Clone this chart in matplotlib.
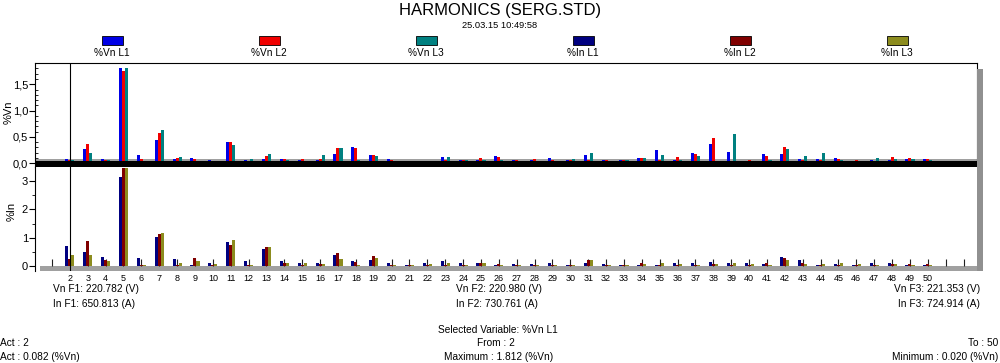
import numpy as np
import matplotlib.pyplot as plt
from matplotlib.patches import Rectangle
from matplotlib.ticker import MultipleLocator, FuncFormatter

plt.rcParams['font.family'] = ['Liberation Sans', 'DejaVu Sans']

harmonics = list(range(2, 51))
slots = list(range(1, 53))   # harmonic slots on the x axis

vn_l1 = [0.082, 0.27, 0.09, 1.812, 0.16, 0.44, 0.09, 0.10, 0.07, 0.41, 0.07, 0.08, 0.08, 0.06, 0.07,
         0.17, 0.31, 0.16, 0.09, 0.02, 0.04, 0.12, 0.07, 0.07, 0.13, 0.06, 0.07, 0.11, 0.06, 0.16,
         0.06, 0.06, 0.11, 0.25, 0.07, 0.20, 0.37, 0.22, 0.05, 0.17, 0.17, 0.08, 0.08, 0.10, 0.05,
         0.06, 0.07, 0.08, 0.08]
vn_l2 = [0.06, 0.37, 0.07, 1.76, 0.08, 0.57, 0.10, 0.08, 0.04, 0.40, 0.05, 0.13, 0.08, 0.08, 0.08,
         0.29, 0.29, 0.15, 0.07, 0.03, 0.05, 0.07, 0.06, 0.10, 0.12, 0.07, 0.08, 0.06, 0.07, 0.07,
         0.07, 0.07, 0.10, 0.07, 0.12, 0.18, 0.48, 0.05, 0.07, 0.14, 0.30, 0.07, 0.07, 0.08, 0.06,
         0.05, 0.12, 0.10, 0.09]
vn_l3 = [0.07, 0.19, 0.07, 1.81, 0.05, 0.63, 0.12, 0.05, 0.04, 0.35, 0.09, 0.18, 0.07, 0.05, 0.16,
         0.29, 0.06, 0.13, 0.04, 0.03, 0.04, 0.12, 0.07, 0.07, 0.07, 0.05, 0.05, 0.05, 0.08, 0.19,
         0.05, 0.06, 0.11, 0.16, 0.07, 0.14, 0.05, 0.56, 0.05, 0.06, 0.27, 0.13, 0.20, 0.06, 0.05,
         0.10, 0.08, 0.09, 0.06]

in_l1 = [0.70, 0.49, 0.31, 3.13, 0.27, 1.01, 0.24, 0.05, 0.12, 0.86, 0.17, 0.60, 0.17, 0.10, 0.10,
         0.39, 0.19, 0.22, 0.12, 0.03, 0.10, 0.17, 0.10, 0.10, 0.05, 0.06, 0.06, 0.10, 0.03, 0.10,
         0.08, 0.05, 0.05, 0.05, 0.10, 0.10, 0.15, 0.10, 0.10, 0.08, 0.33, 0.20, 0.05, 0.08, 0.05,
         0.10, 0.10, 0.05, 0.05]
in_l2 = [0.25, 0.88, 0.22, 3.45, 0.05, 1.13, 0.05, 0.27, 0.05, 0.74, 0.05, 0.66, 0.10, 0.05, 0.06,
         0.47, 0.15, 0.36, 0.05, 0.05, 0.05, 0.05, 0.03, 0.10, 0.07, 0.03, 0.03, 0.05, 0.05, 0.20,
         0.05, 0.05, 0.10, 0.05, 0.05, 0.05, 0.08, 0.05, 0.05, 0.10, 0.27, 0.10, 0.05, 0.05, 0.05,
         0.05, 0.08, 0.08, 0.08]
in_l3 = [0.39, 0.39, 0.17, 3.45, 0.05, 1.18, 0.12, 0.17, 0.07, 0.92, 0.04, 0.66, 0.10, 0.12, 0.08,
         0.25, 0.05, 0.27, 0.05, 0.05, 0.08, 0.12, 0.03, 0.12, 0.05, 0.03, 0.03, 0.05, 0.05, 0.20,
         0.03, 0.03, 0.08, 0.12, 0.08, 0.05, 0.08, 0.10, 0.08, 0.05, 0.20, 0.08, 0.07, 0.12, 0.08,
         0.03, 0.08, 0.05, 0.05]

vn_names = ['%Vn L1', '%Vn L2', '%Vn L3']
in_names = ['%In L1', '%In L2', '%In L3']
vn_colors = ['#0000e6', '#f00000', '#008080']
in_colors = ['#000080', '#800000', '#8c8c1e']

W, H = 1000, 363
fig = plt.figure(figsize=(W / 100, H / 100), dpi=100)


def fx(x):
    return x / W


def fy(y):
    return 1 - y / H


# axes placed by pixel box
ax1 = fig.add_axes([fx(35), fy(167), fx(942), (167 - 63) / H])
ax2 = fig.add_axes([fx(35), fy(271), fx(942), (271 - 167) / H], sharex=ax1)

x = np.array(harmonics)
bw = 0.17

# upper chart (%Vn)
ax1.axhspan(0.044, 0.082, color='#a0a0a0', lw=0, zorder=1)
for i, vals in enumerate([vn_l1, vn_l2, vn_l3]):
    ax1.bar(x + (i - 1) * bw, vals, width=bw, color=vn_colors[i], lw=0, zorder=2)
ax1.axhspan(-0.08, 0.044, color='black', lw=0, zorder=3)
ax1.set_ylim(-0.070, 1.903)
ax1.set_xlim(0.05, 52.75)
ax1.yaxis.set_major_locator(MultipleLocator(0.5))
ax1.yaxis.set_minor_locator(MultipleLocator(0.1))
ax1.yaxis.set_major_formatter(FuncFormatter(lambda v, p: f"{v:.1f}".replace('.', ',')))
ax1.tick_params(axis='y', which='major', direction='out', length=4, width=0.8, labelsize=8, pad=1)
ax1.tick_params(axis='y', which='minor', direction='in', length=2.5, width=0.6)
ax1.tick_params(axis='x', bottom=False, labelbottom=False)
ax1.spines['bottom'].set_visible(False)
for s in ['left', 'top', 'right']:
    ax1.spines[s].set_linewidth(0.8)
ax1.set_ylabel('%Vn', fontsize=8, va='center')
ax1.yaxis.set_label_coords(-0.028, 0.53)

# lower chart (%In)
ax2.axhspan(-0.2, 0, xmin=0.005, color='#a0a0a0', lw=0, zorder=1)
ax2.vlines(slots, 0, 0.25, color='#202020', lw=0.8, zorder=1.5)
for i, vals in enumerate([in_l1, in_l2, in_l3]):
    ax2.bar(x + (i - 1) * bw, vals, width=bw, color=in_colors[i], lw=0, zorder=2)
ax2.yaxis.set_major_locator(MultipleLocator(1))
ax2.yaxis.set_minor_locator(MultipleLocator(0.5))
ax2.tick_params(axis='y', which='major', direction='out', length=4, width=0.8, labelsize=8, pad=1)
ax2.tick_params(axis='y', which='minor', direction='out', length=2.5, width=0.6)
ax2.set_xticks(harmonics)
ax2.set_xticklabels([str(h) for h in harmonics])
ax2.tick_params(axis='x', length=0, labelsize=6.5, pad=2)
for s in ['top', 'right', 'bottom']:
    ax2.spines[s].set_visible(False)
ax2.spines['left'].set_linewidth(0.8)
ax2.set_ylabel('%In', fontsize=8, va='center')
ax2.yaxis.set_label_coords(-0.025, 0.57)

# cursor on the selected harmonic
for ax in (ax1, ax2):
    ax.axvline(harmonics[0], color='black', lw=0.8, zorder=4)
ax2.set_ylim(-0.177, 3.498)

# right shadow
fig.patches.append(Rectangle((fx(977), fy(271)), fx(6), (271 - 69) / H,
                             transform=fig.transFigure, color='#909090', lw=0))

# title
fig.text(fx(500), fy(10), 'HARMONICS (SERG.STD)', ha='center', va='center', fontsize=12)
fig.text(fx(500), fy(25), '25.03.15 10:49:58', ha='center', va='center', fontsize=6.7)

# legend: swatch above label
for i, (name, col) in enumerate(zip(vn_names + in_names, vn_colors + in_colors)):
    cx = 112 + 157 * i
    fig.patches.append(Rectangle((fx(cx - 10), fy(45)), fx(21), 9 / H, transform=fig.transFigure,
                                 facecolor=col, edgecolor='black', lw=0.6))
    fig.text(fx(cx), fy(53), name, ha='center', va='center', fontsize=7.3)

# readings under the chart
fs = 7.3
fig.text(fx(53), fy(289), 'Vn F1: 220.782 (V)', ha='left', va='center', fontsize=fs)
fig.text(fx(53), fy(304), 'In F1: 650.813 (A)', ha='left', va='center', fontsize=fs)
fig.text(fx(456), fy(289), 'Vn F2: 220.980 (V)', ha='left', va='center', fontsize=fs)
fig.text(fx(456), fy(304), 'In F2: 730.761 (A)', ha='left', va='center', fontsize=fs)
fig.text(fx(980), fy(289), 'Vn F3: 221.353 (V)', ha='right', va='center', fontsize=fs)
fig.text(fx(980), fy(304), 'In F3: 724.914 (A)', ha='right', va='center', fontsize=fs)

fig.text(fx(498), fy(330), 'Selected Variable: %Vn L1', ha='center', va='center', fontsize=fs)
fig.text(fx(496), fy(343), 'From : 2', ha='center', va='center', fontsize=fs)
fig.text(fx(499), fy(357), 'Maximum : 1.812 (%Vn)', ha='center', va='center', fontsize=fs)
fig.text(fx(0), fy(343), 'Act : 2', ha='left', va='center', fontsize=fs)
fig.text(fx(0), fy(357), 'Act : 0.082 (%Vn)', ha='left', va='center', fontsize=fs)
fig.text(fx(998), fy(343), 'To : 50', ha='right', va='center', fontsize=fs)
fig.text(fx(998), fy(357), 'Minimum : 0.020 (%Vn)', ha='right', va='center', fontsize=fs)

fig.savefig('out.png', dpi=100)
